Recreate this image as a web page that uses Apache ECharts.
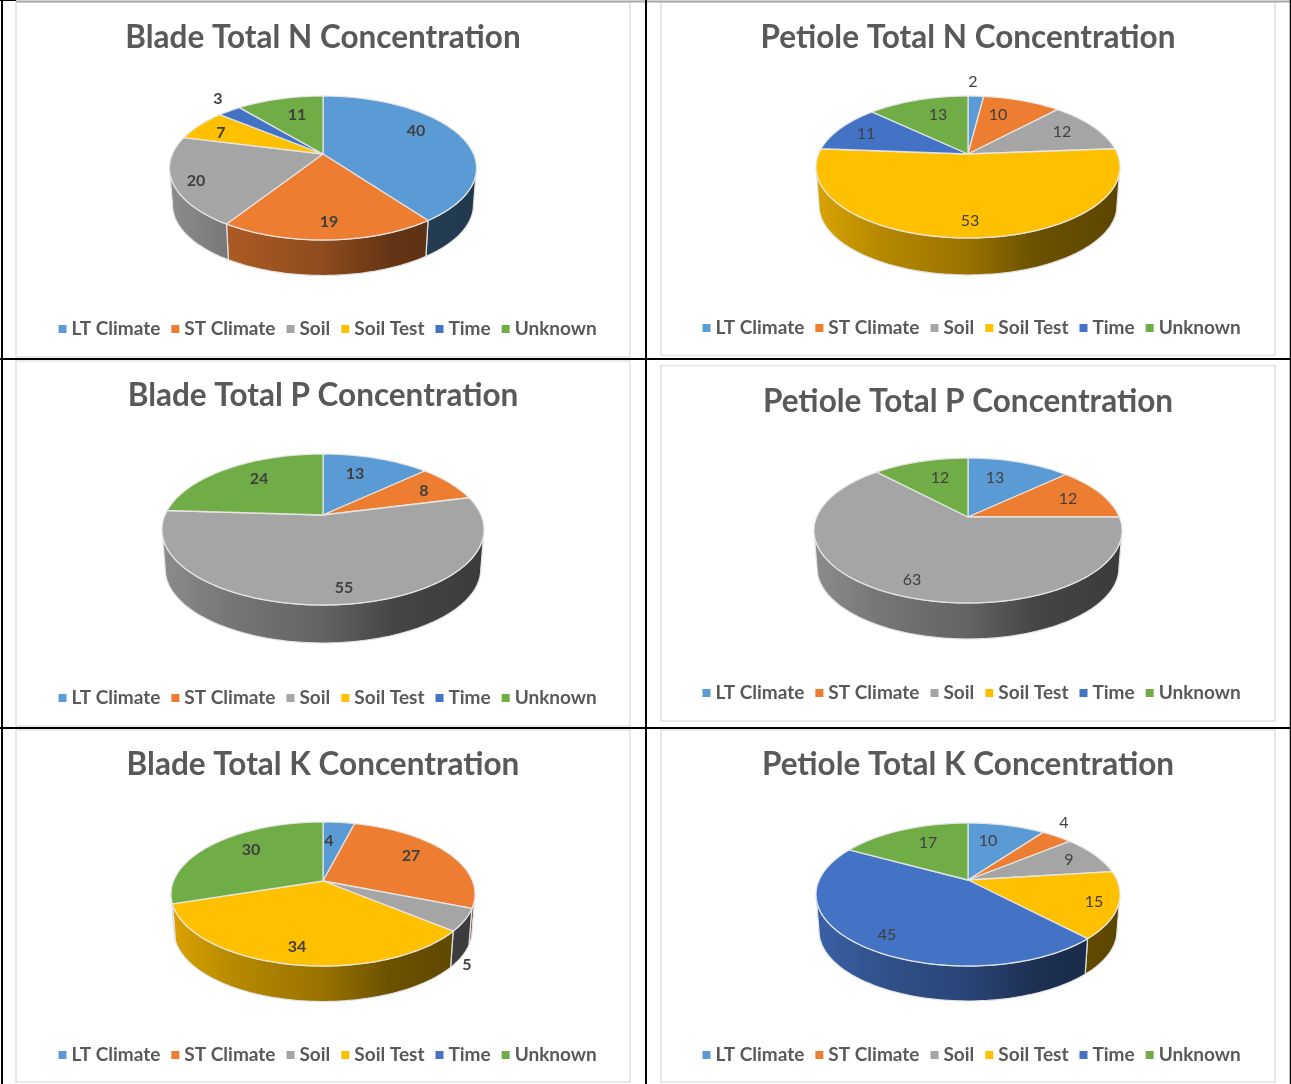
<!DOCTYPE html>
<html>
<head>
<meta charset="utf-8">
<title>Leaf tissue nutrient concentration drivers</title>
<style>
  html, body { margin: 0; padding: 0; background: #fff; }
  #chart { width: 1291px; height: 1084px; }
</style>
<script src="https://cdn.jsdelivr.net/npm/echarts@6/dist/echarts.min.js"></script>
</head>
<body>
<div id="chart"></div>
<script>
// Category names and colours, shared by all six pies
const categories = ['LT Climate', 'ST Climate', 'Soil', 'Soil Test', 'Time', 'Unknown'];
const categoryColors = ['#5B9BD5', '#ED7D31', '#A5A5A5', '#FFC000', '#4472C4', '#70AD47'];

// Percent of variance per category
const bladeN = [40, 19, 20, 7, 3, 11];
const petioleN = [2, 10, 12, 53, 11, 13];
const bladeP = [13, 8, 55, 0, 0, 24];
const petioleP = [13, 12, 63, 0, 0, 12];
const bladeK = [4, 27, 5, 34, 0, 30];
const petioleK = [10, 4, 9, 15, 45, 17];

const titles = [
  'Blade Total N Concentration', 'Petiole Total N Concentration',
  'Blade Total P Concentration', 'Petiole Total P Concentration',
  'Blade Total K Concentration', 'Petiole Total K Concentration'
];
const panelValues = [bladeN, petioleN, bladeP, petioleP, bladeK, petioleK];

// Page layout: pie geometry in pixels. above/below are the top-face extents
// measured from the pie's apex, which differ because of the perspective tilt.
const pieLayouts = [
  { cx: 323, cy: 154, rx: 153.5, above: 58, below: 86, depth: 35.5, titleY: 38, legendX: 58.5, legendY: 329, frame: [16, 2, 614, 355], bold: true },
  { cx: 968, cy: 154, rx: 152, above: 58, below: 84, depth: 37, titleY: 38, legendX: 702.5, legendY: 328, frame: [661, 2, 614, 353.5], bold: false },
  { cx: 323, cy: 515, rx: 161, above: 61, below: 90, depth: 38, titleY: 396, legendX: 58.5, legendY: 698, frame: [16, 361, 614, 365], bold: true },
  { cx: 968, cy: 517, rx: 154, above: 59, below: 86, depth: 36, titleY: 402, legendX: 702.5, legendY: 693, frame: [661, 365.5, 614, 355.5], bold: false },
  { cx: 323, cy: 881, rx: 152, above: 59, below: 85, depth: 35.5, titleY: 765, legendX: 58.5, legendY: 1055, frame: [16, 730, 614, 352], bold: true },
  { cx: 968, cy: 880, rx: 152, above: 57, below: 86, depth: 35, titleY: 765, legendX: 702.5, legendY: 1055, frame: [661, 730, 614, 352], bold: false }
];

// Data label offsets from each pie's apex, one per category
const labelOffsets = [
  [[93, -23], [6, 68], [-127, 27], [-102, -21], [-105, -55], [-26, -39]],
  [[5, -72], [30, -39], [94, -22], [2, 67], [-102, -20], [-30, -39]],
  [[32, -41], [101, -24], [21, 73], null, null, [-64, -36]],
  [[27, -39], [100, -18], [-56, 63], null, null, [-28, -39]],
  [[6, -40], [88, -25], [144, 84], [-26, 66], null, [-72, -31]],
  [[20, -39], [96, -57], [101, -20], [126, 22], [-81, 55], [-40, -37]]
];

const FONT = 'Lato, Carlito, Calibri, sans-serif';
const TEXT_GREY = '#595959';
const LABEL_GREY = '#404040';
const EDGE = 'rgba(232,232,232,0.9)';

function shade(hex, factor) {
  const n = parseInt(hex.slice(1), 16);
  const ch = [n >> 16, (n >> 8) & 255, n & 255].map(c => Math.round(c * factor));
  return 'rgb(' + ch.join(',') + ')';
}

// Projects a point of the tilted disc onto the page.
// Angles run clockwise from twelve o'clock, r is a fraction of the radius.
function makeProjection(p) {
  const k = (p.below - p.above) / (p.below + p.above);
  const H = p.above * (1 + k);
  const R = p.rx * Math.sqrt(1 - k * k);
  const baseScale = 0.98;
  const baseDrop = p.below + p.depth - baseScale * p.below;
  return {
    tangent: Math.acos(-k),
    top(theta, r) {
      const u = Math.sin(theta) * r, v = Math.cos(theta) * r, w = 1 + k * v;
      return [p.cx + R * u / w, p.cy - H * v / w];
    },
    base(theta) {
      const u = Math.sin(theta), v = Math.cos(theta), w = 1 + k * v;
      return [p.cx + baseScale * R * u / w, p.cy + baseDrop - baseScale * H * v / w];
    }
  };
}

function sampleAngles(a, b) {
  const step = Math.PI / 120;
  const out = [a];
  for (let t = a + step; t < b; t += step) out.push(t);
  out.push(b);
  return out;
}

// Draws one category of one pie: its front wall, top-face sector and value label
function renderSlice(panel, catIndex, api) {
  const value = api.value(0);
  if (!value) return { type: 'group', children: [] };
  const before = api.value(1);
  const total = api.value(2);
  const p = pieLayouts[panel];
  const proj = makeProjection(p);
  const start = before / total * 2 * Math.PI;
  const end = (before + value) / total * 2 * Math.PI;
  const color = categoryColors[catIndex];
  const children = [];

  // The wall only shows along the near side of the rim
  const wallFrom = Math.max(start, proj.tangent);
  const wallTo = Math.min(end, 2 * Math.PI - proj.tangent);
  if (wallTo > wallFrom) {
    const angles = sampleAngles(wallFrom, wallTo);
    const pts = angles.map(t => proj.top(t, 1)).concat(angles.slice().reverse().map(t => proj.base(t)));
    children.push({
      type: 'polygon',
      z2: 1,
      shape: { points: pts },
      style: {
        fill: {
          type: 'linear', x: p.cx - p.rx, y: 0, x2: p.cx + p.rx, y2: 0, global: true,
          colorStops: [
            { offset: 0, color: shade(color, 0.85) },
            { offset: 0.2, color: shade(color, 0.72) },
            { offset: 0.5, color: shade(color, 0.6) },
            { offset: 0.72, color: shade(color, 0.42) },
            { offset: 1, color: shade(color, 0.36) }
          ]
        },
        stroke: '#e2e2e2',
        lineWidth: 1.2,
        lineJoin: 'round'
      }
    });
  }

  const rim = sampleAngles(start, end).map(t => proj.top(t, 1));
  children.push({
    type: 'polygon',
    z2: 10,
    shape: { points: [proj.top(0, 0)].concat(rim) },
    style: { fill: color, stroke: EDGE, lineWidth: 1.3, lineJoin: 'round' }
  });

  const off = labelOffsets[panel][catIndex];
  if (off) {
    children.push({
      type: 'text',
      z2: 20,
      style: {
        text: String(value),
        x: p.cx + off[0],
        y: p.cy + off[1],
        align: 'center',
        verticalAlign: 'middle',
        fill: LABEL_GREY,
        fontFamily: FONT,
        fontSize: 16,
        fontWeight: p.bold ? 'bold' : 'normal'
      }
    });
  }
  return { type: 'group', children };
}

const series = [];
panelValues.forEach((values, panel) => {
  const total = values.reduce((a, b) => a + b, 0);
  let running = 0;
  values.forEach((value, catIndex) => {
    series.push({
      type: 'custom',
      name: categories[catIndex],
      coordinateSystem: 'none',
      silent: true,
      itemStyle: { color: categoryColors[catIndex] },
      data: [[value, running, total]],
      renderItem: (params, api) => renderSlice(panel, catIndex, api)
    });
    running += value;
  });
});

// Chart frames and the surrounding table rules
const frameRects = pieLayouts.map(p => ({
  type: 'rect',
  silent: true,
  shape: { x: p.frame[0], y: p.frame[1], width: p.frame[2], height: p.frame[3] },
  style: { fill: '#fff', stroke: '#e2e2e2', lineWidth: 1.6 }
}));
const tableRules = [
  [0, 0.5, 16, 0.5, 1, '#000'], [16, 1.5, 1291, 1.5, 2, '#a8a8a8'],
  [0, 359, 1291, 359, 2, '#000'], [0, 728, 1291, 728, 2, '#000'],
  [2, 0, 2, 1084, 2, '#000'], [646, 0, 646, 1084, 2, '#000'], [1290.5, 0, 1290.5, 1084, 1.5, '#000']
].map(l => ({
  type: 'line',
  silent: true,
  shape: { x1: l[0], y1: l[1], x2: l[2], y2: l[3] },
  style: { stroke: l[5], lineWidth: l[4] }
}));

const chart = echarts.init(document.getElementById('chart'), null, { renderer: 'canvas' });
chart.setOption({
  animation: false,
  backgroundColor: '#fff',
  graphic: { elements: frameRects.concat(tableRules) },
  title: pieLayouts.map((p, i) => ({
    text: titles[i],
    left: p.cx,
    top: p.titleY - 19,
    textAlign: 'center',
    padding: 0,
    textStyle: { color: TEXT_GREY, fontFamily: FONT, fontSize: 31.5, fontWeight: 'bold', lineHeight: 38 }
  })),
  legend: pieLayouts.map(p => ({
    data: categories,
    left: p.legendX,
    top: p.legendY - 10,
    width: 600,
    height: 20,
    padding: 0,
    icon: 'rect',
    itemWidth: 8,
    itemHeight: 8,
    itemGap: 11,
    selectedMode: false,
    textStyle: { color: TEXT_GREY, fontFamily: FONT, fontSize: 19, fontWeight: 'bold', lineHeight: 20 }
  })),
  series
});
</script>
</body>
</html>
